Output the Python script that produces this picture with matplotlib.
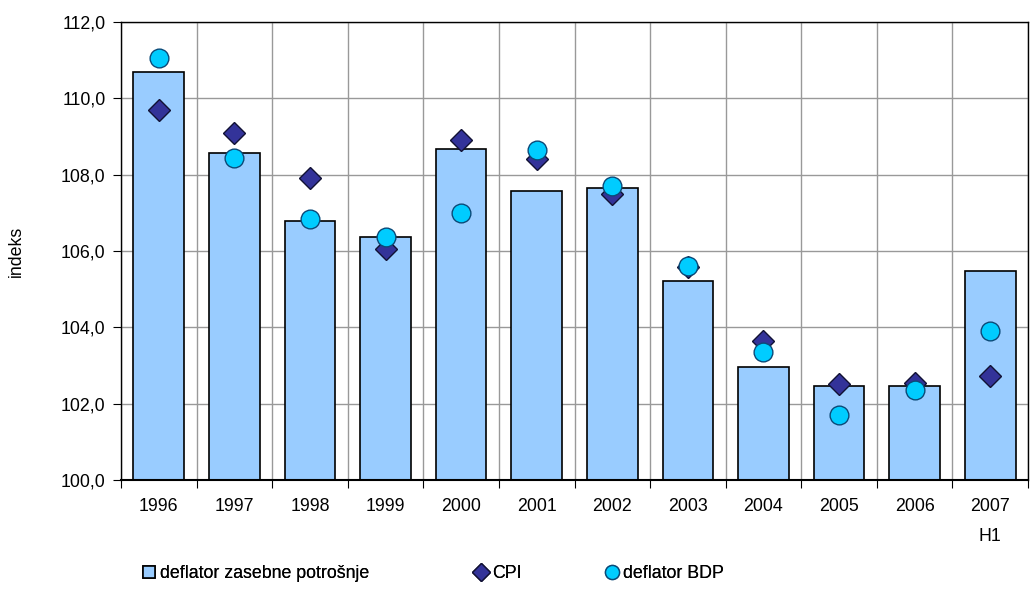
import numpy as np
import matplotlib.pyplot as plt
from matplotlib.ticker import FixedLocator, FuncFormatter

plt.rcParams['font.family'] = ['Liberation Sans', 'DejaVu Sans']

# Data
years = ['1996', '1997', '1998', '1999', '2000', '2001', '2002', '2003', '2004', '2005', '2006', '2007\nH1']
deflator_potrosnje = [110.70, 108.57, 106.79, 106.37, 108.67, 107.58, 107.66, 105.22, 102.97, 102.46, 102.46, 105.47]
cpi = [109.69, 109.08, 107.91, 106.06, 108.92, 108.42, 107.49, 105.57, 103.64, 102.51, 102.55, 102.72]
deflator_bdp = [111.05, 108.44, 106.84, 106.37, 106.99, 108.64, 107.69, 105.62, 103.36, 101.70, 102.36, 103.90]

x = np.arange(len(years))
fs = 12.8

fig = plt.figure(figsize=(10.31, 5.92), dpi=100)
ax = fig.add_axes([121 / 1031, 1 - 480 / 592, 907 / 1031, 458 / 592])

bars = ax.bar(x, np.array(deflator_potrosnje) - 100, bottom=100, width=0.67,
              color='#99ccff', edgecolor='black', linewidth=1.2, zorder=2,
              label='deflator zasebne potrošnje')
l_cpi, = ax.plot(x, cpi, linestyle='none', marker='D', markersize=11,
                 markerfacecolor='#333399', markeredgecolor='#111133', markeredgewidth=1,
                 zorder=3, label='CPI')
l_bdp, = ax.plot(x, deflator_bdp, linestyle='none', marker='o', markersize=13.5,
                 markerfacecolor='#00ccff', markeredgecolor='#0b4a78', markeredgewidth=1,
                 zorder=4, label='deflator BDP')

ax.set_xlim(-0.5, len(years) - 0.5)
ax.set_ylim(100, 112)
ax.set_yticks(np.arange(100, 112.1, 2))
ax.yaxis.set_major_formatter(FuncFormatter(lambda v, p: f'{v:.1f}'.replace('.', ',')))

# category labels centred, ticks and grid at category boundaries
ax.set_xticks(x)
ax.set_xticklabels(years, linespacing=2.0, va='top')
ax.xaxis.set_minor_locator(FixedLocator(np.arange(-0.5, len(years), 1)))
ax.tick_params(axis='x', which='major', length=0, pad=13, labelsize=fs)
ax.tick_params(axis='x', which='minor', length=6, width=0.8, direction='out')
ax.tick_params(axis='y', length=6, width=0.8, labelsize=fs, pad=5)

ax.grid(True, axis='y', which='major', color='#999999', linewidth=1, zorder=0)
ax.grid(True, axis='x', which='minor', color='#999999', linewidth=1, zorder=0)
ax.set_axisbelow(True)

for s in ax.spines.values():
    s.set_color('black')
    s.set_linewidth(1)
ax.spines['bottom'].set_linewidth(1.5)

ax.set_ylabel('indeks', fontsize=fs, labelpad=26)

# legend: three entries placed along the bottom
for h, lab, xpos, ms in [(bars, 'deflator zasebne potrošnje', 143, 1.0),
                         (l_cpi, 'CPI', 475, 0.8),
                         (l_bdp, 'deflator BDP', 606, 0.75)]:
    lg = fig.legend([h], [lab], loc='center left', bbox_to_anchor=(xpos / 1031, 1 - 574 / 592),
                    frameon=False, fontsize=fs, handlelength=0.65, handleheight=0.65,
                    handletextpad=0.3, borderaxespad=0, borderpad=0, markerscale=ms)
    fig.add_artist(lg)

fig.savefig('out.png', dpi=100)
